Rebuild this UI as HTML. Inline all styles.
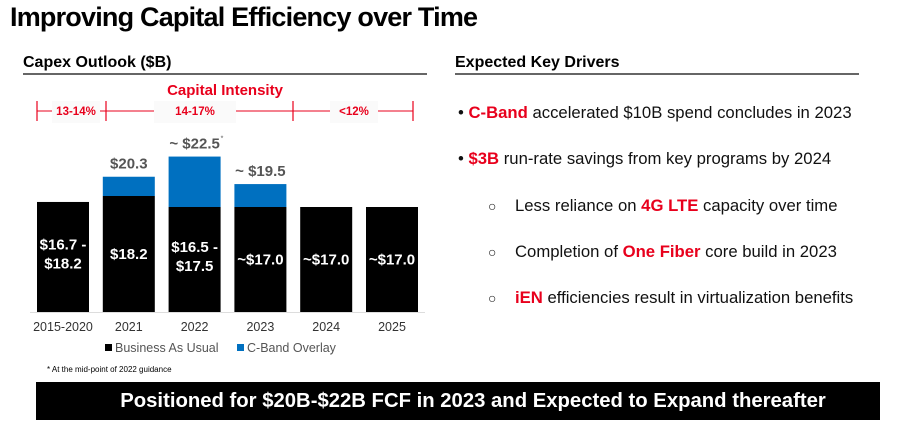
<!DOCTYPE html>
<html><head><meta charset="utf-8"><style>
body{margin:0;width:901px;height:426px;background:#fff;font-family:"Liberation Sans",Arial,sans-serif;position:relative;overflow:hidden}
.abs{position:absolute}
.sec{font-weight:bold;font-size:16px;color:#000}
.rule{position:absolute;height:2px;background:#666}
.drv{position:absolute;font-size:16.7px;color:#111;white-space:nowrap}
.r{color:#e8001c;font-weight:bold}
.c{font-size:14px;display:inline-block;width:27px}
</style></head><body>
<div class="abs" style="left:10px;top:2px;font-size:27px;font-weight:bold;letter-spacing:-0.8px">Improving Capital Efficiency over Time</div>
<div class="abs sec" style="left:23px;top:54px">Capex Outlook ($B)</div>
<div class="rule" style="left:23px;top:73px;width:404px"></div>
<div class="abs sec" style="left:455px;top:54px">Expected Key Drivers</div>
<div class="rule" style="left:455px;top:73px;width:404px"></div>

<div class="drv" style="left:458px;top:103px">• <span class="r">C-Band</span> accelerated $10B spend concludes in 2023</div>
<div class="drv" style="left:458px;top:149px">• <span class="r">$3B</span> run-rate savings from key programs by 2024</div>
<div class="drv" style="left:488px;top:196px"><span class="c">○</span>Less reliance on <span class="r">4G LTE</span> capacity over time</div>
<div class="drv" style="left:488px;top:242px"><span class="c">○</span>Completion of <span class="r">One Fiber</span> core build in 2023</div>
<div class="drv" style="left:488px;top:288px"><span class="c">○</span><span class="r">iEN</span> efficiencies result in virtualization benefits</div>

<svg class="abs" style="left:0;top:0" width="440" height="380">
<text x="225" y="95" text-anchor="middle" font-size="15" font-weight="bold" fill="#e8001c">Capital Intensity</text>
<g id="ci"></g>
<g id="bars"></g>
<line x1="30" y1="312.5" x2="425" y2="312.5" stroke="#ddd" stroke-width="1"/>
<rect x="105" y="344" width="7" height="7" fill="#000"/>
<text x="115" y="352" font-size="12.5" fill="#555">Business As Usual</text>
<rect x="237" y="344" width="7" height="7" fill="#0070c0"/>
<text x="247" y="352" font-size="12.5" fill="#555">C-Band Overlay</text>
<text x="47" y="372" font-size="8" fill="#000">* At the mid-point of 2022 guidance</text>
</svg>

<div class="abs" style="left:36px;top:382px;width:814px;padding-left:30px;height:38px;background:#000;color:#fff;font-weight:bold;font-size:20.3px;text-align:center;line-height:38px">Positioned for $20B-$22B FCF in 2023 and Expected to Expand thereafter</div>

<script>
const categories=["2015-2020","2021","2022","2023","2024","2025"];
const bau=[17.55,18.2,17.0,17.0,17.0,17.0];
const cband=[0,2.1,5.5,2.5,0,0];
const barLabels=[["$16.7 -","$18.2"],["$18.2"],["$16.5 -","$17.5"],["~$17.0"],["~$17.0"],["~$17.0"]];
const totalLabels=["","$20.3","~ $22.5","~ $19.5","",""];
const ciLabels=["13-14%","14-17%","<12%"];
const ciTicks=[37,106,293,413];
const NS="http://www.w3.org/2000/svg";
const base=312, pxPer=9.17, vMin=5.55;
function y(v){return base-(v-vMin)*pxPer;}
function x(i){return 37+i*65.8;}
const bw=52;
const g=document.getElementById('bars');
function mk(t,a,p){const e=document.createElementNS(NS,t);for(const k in a)e.setAttribute(k,a[k]);(p||g).appendChild(e);return e;}
categories.forEach((c,i)=>{
  const yb=y(bau[i]);
  const r=mk('rect',{x:x(i),y:yb,width:bw,height:base-yb,fill:'#000'});
  
  
  if(cband[i]>0){
    const yt=y(bau[i]+cband[i]);
    const b=mk('rect',{x:x(i),y:yt,width:bw,height:yb-yt,fill:'#0070c0'});
    
    
  }
  const top=y(bau[i]+cband[i]);
  if(totalLabels[i]){
    const t=mk('text',{x:x(i)+bw/2,y:top-8,'text-anchor':'middle','font-size':15,'font-weight':'bold',fill:'#555'});
    t.textContent=totalLabels[i];
    
    
    if(i===2){const s=mk('text',{x:x(i)+bw/2+26,y:top-16,'font-size':7,fill:'#555'});s.textContent='*';}
  }
  const lines=barLabels[i];const mid=(yb+base)/2+(lines.length>1?-3:5);
  lines.forEach((l,j)=>{
    const t=mk('text',{x:x(i)+bw/2,y:mid+(j-(lines.length-1)/2)*19+(lines.length>1?5:0),'text-anchor':'middle','font-size':15,'font-weight':'bold',fill:'#fff'});
    t.textContent=l;
    
    
  });
  const xl=mk('text',{x:x(i)+bw/2,y:331,'text-anchor':'middle','font-size':12.5,fill:'#333'});
  xl.textContent=c;
  
  
});
const ci=document.getElementById('ci');
const ln=mk('line',{x1:ciTicks[0],y1:111,x2:ciTicks[3],y2:111,stroke:'#e8001c','stroke-width':1},ci);


ciTicks.forEach(tx=>{mk('line',{x1:tx,y1:101,x2:tx,y2:121,stroke:'#e8001c','stroke-width':1.2},ci);});
const ciCenters=[76,195,354],ciW=[48,82,48];
ciLabels.forEach((l,i)=>{
  mk('rect',{x:ciCenters[i]-ciW[i]/2,y:101,width:ciW[i],height:22,fill:'#fafafa'},ci);
  const t=mk('text',{x:ciCenters[i],y:115,'text-anchor':'middle','font-size':11.5,'font-weight':'bold',fill:'#e8001c'},ci);
  t.textContent=l;
  
  
});
</script>
</body></html>
